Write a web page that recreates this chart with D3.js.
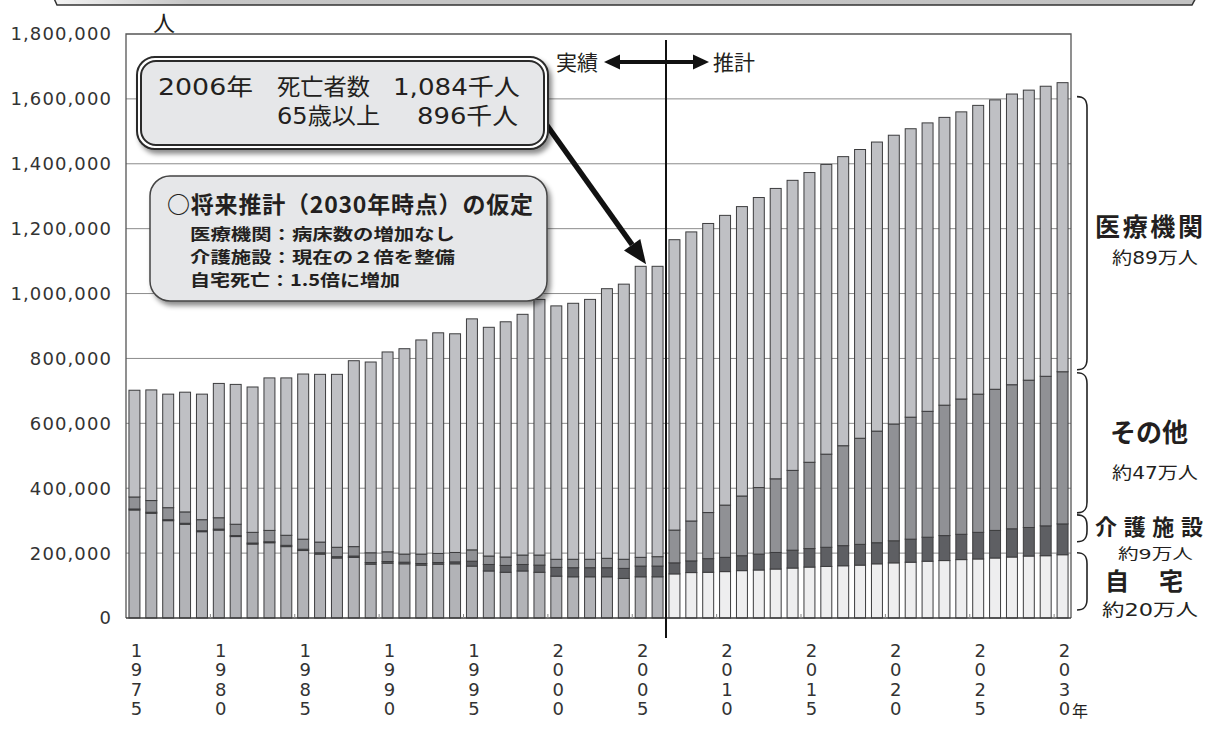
<!DOCTYPE html>
<html lang="ja">
<head>
<meta charset="utf-8">
<script src="https://cdn.jsdelivr.net/npm/d3@7"></script>
<style>
  html, body { margin: 0; padding: 0; background: #fff; }
  svg { display: block; }
</style>
</head>
<body>
<svg id="chart" width="1212" height="731"></svg>
<script>
// 死亡場所別の死亡者数の推移（単位：千人）。1975〜2006年は実績、2007年以降は推計。
const years = [1975,1976,1977,1978,1979,1980,1981,1982,1983,1984,1985,1986,1987,1988,1989,1990,
  1991,1992,1993,1994,1995,1996,1997,1998,1999,2000,2001,2002,2003,2004,2005,2006,
  2007,2008,2009,2010,2011,2012,2013,2014,2015,2016,2017,2018,2019,2020,2021,2022,
  2023,2024,2025,2026,2027,2028,2029,2030];
const lastActualYear = 2006;

// 自宅
const home = [333,323,300,289,266,271,251,228,232,220,208,197,185,187,166,169,167,163,166,167,
  160,145,141,145,141,129,127,127,127,122,127,127,
  136,140,141,143,146,148,151,154,157,159,161,163,167,170,172,175,177,180,182,185,188,191,192,195];
// 介護施設
const care = [3,3,3,3,3,3,3,3,3,4,4,4,4,4,5,5,5,5,5,6,15,20,21,20,22,27,28,28,28,31,33,33,
  34,36,42,44,46,49,51,55,57,59,62,64,65,68,71,74,77,78,82,85,87,88,92,95];
// その他
const other = [37,36,37,35,34,35,35,33,35,31,31,33,29,29,30,30,25,29,28,29,35,26,26,29,31,25,26,26,29,28,27,29,
  101,123,142,161,184,205,227,246,266,287,308,327,344,360,376,388,402,417,426,435,444,454,461,469];
// 医療機関
const medical = [329,341,350,369,387,414,431,448,470,485,509,517,533,573,588,616,633,660,680,674,
  712,705,725,742,788,781,789,801,831,848,897,895,
  895,891,891,893,892,894,895,894,893,893,891,890,891,890,889,889,887,885,890,892,896,894,894,891];

const yTicks = [0,200,400,600,800,1000,1200,1400,1600,1800];
const xLabelYears = [1975,1980,1985,1990,1995,2000,2005,2010,2015,2020,2025,2030];

const keys = ["home","care","other","medical"];
const rows = years.map((yr, i) => ({ year: yr, home: home[i], care: care[i], other: other[i], medical: medical[i] }));

// 数字は DejaVu Sans、漢字・かなは Noto Sans CJK JP で表示
const JP = "'Noto Sans CJK JP', 'Noto Sans CJK SC', sans-serif";
const MIX = "'DejaVu Sans', 'Noto Sans CJK JP', sans-serif";
const NUM = "'DejaVu Sans', 'Noto Sans', sans-serif";
const INK = "#231f20";

const svg = d3.select("#chart");
const plot = { left: 126, right: 1071, top: 34, bottom: 618 };

const x = d3.scaleBand().domain(years).range([plot.left, plot.right])
  .paddingInner(0.35).paddingOuter(0.175);
const y = d3.scaleLinear().domain([0, 1800]).range([plot.bottom, plot.top]);

const defs = svg.append("defs");
const shadow = defs.append("filter").attr("id", "shadow")
  .attr("x", "-10%").attr("y", "-10%").attr("width", "125%").attr("height", "135%");
shadow.append("feDropShadow").attr("dx", 3).attr("dy", 4).attr("stdDeviation", 2.5)
  .attr("flood-color", "#000").attr("flood-opacity", 0.45);
const bannerGrad = defs.append("linearGradient").attr("id", "bannerGrad")
  .attr("x1", 0).attr("x2", 1).attr("y1", 0).attr("y2", 0);
bannerGrad.append("stop").attr("offset", "0%").attr("stop-color", "#f4f4f4");
bannerGrad.append("stop").attr("offset", "12%").attr("stop-color", "#c6c6c6");
bannerGrad.append("stop").attr("offset", "100%").attr("stop-color", "#c2c2c2");

// 上部の見出し帯（下端のみ見える）
svg.append("path")
  .attr("d", "M52,-6 L57,5 L1192,5 L1198,-6 Z")
  .attr("fill", "url(#bannerGrad)").attr("stroke", "#333").attr("stroke-width", 1.5);

// 目盛り線
svg.append("g").selectAll("line").data(yTicks.filter(d => d > 0 && d < 1800)).join("line")
  .attr("x1", plot.left).attr("x2", plot.right)
  .attr("y1", d => y(d)).attr("y2", d => y(d))
  .attr("stroke", "#8c8c8c").attr("stroke-width", 1);

// 積み上げ棒
const colour = (key, yr) => {
  if (key === "home") return yr <= lastActualYear ? "#b2b3b7" : "#eeeeef";
  if (key === "care") return "#5e5f63";
  if (key === "other") return "#909195";
  return "#bfc0c4";
};
const series = d3.stack().keys(keys)(rows);
svg.append("g").selectAll("g").data(series).join("g")
  .selectAll("rect").data(s => s.map(d => ({ key: s.key, d }))).join("rect")
  .attr("x", o => x(o.d.data.year))
  .attr("width", x.bandwidth())
  .attr("y", o => y(o.d[1]))
  .attr("height", o => Math.max(0, y(o.d[0]) - y(o.d[1])))
  .attr("fill", o => colour(o.key, o.d.data.year))
  .attr("stroke", "#3c3c3e").attr("stroke-width", 1);

// 枠線と軸
svg.append("path")
  .attr("d", `M${plot.left},${plot.bottom} V${plot.top} H${plot.right} V${plot.bottom}`)
  .attr("fill", "none").attr("stroke", "#555").attr("stroke-width", 1.3);
svg.append("line").attr("x1", plot.left).attr("x2", plot.right)
  .attr("y1", plot.bottom).attr("y2", plot.bottom)
  .attr("stroke", "#3c3c3c").attr("stroke-width", 1.6);

// 5年ごとの小目盛り
const step = x.step();
svg.append("g").selectAll("line").data(xLabelYears.slice(1)).join("line")
  .attr("x1", d => x(d) - step * x.paddingInner() / 2)
  .attr("x2", d => x(d) - step * x.paddingInner() / 2)
  .attr("y1", plot.bottom).attr("y2", plot.bottom - 4)
  .attr("stroke", "#888").attr("stroke-width", 1);

// Y軸ラベル
svg.append("g").selectAll("text").data(yTicks).join("text")
  .attr("x", 112).attr("y", d => y(d))
  .attr("dy", "0.36em")
  .attr("text-anchor", "end")
  .attr("font-family", NUM).attr("font-size", 18).attr("letter-spacing", 1.1)
  .attr("fill", "#333")
  .text(d => d3.format(",")(d * 1000));

svg.append("text").attr("x", 164).attr("y", 31).attr("text-anchor", "middle")
  .attr("font-family", JP).attr("font-size", 22).attr("fill", INK).text("人");

// X軸ラベル（縦書きの数字）
const xl = svg.append("g");
xLabelYears.forEach(yr => {
  const cx = x(yr) + x.bandwidth() / 2 + 2;
  String(yr).split("").forEach((ch, k) => {
    xl.append("text").attr("x", cx).attr("y", 657 + k * 19.4)
      .attr("text-anchor", "middle")
      .attr("font-family", NUM).attr("font-size", 18)
      .attr("fill", "#333").text(ch);
  });
});
svg.append("text").attr("x", 1072).attr("y", 717)
  .attr("font-family", JP).attr("font-size", 16).attr("fill", INK).text("年");

// 実績／推計の区切り
const divX = (x(lastActualYear) + x.bandwidth() + x(lastActualYear + 1)) / 2;
svg.append("line").attr("x1", divX).attr("x2", divX).attr("y1", 40).attr("y2", 638)
  .attr("stroke", "#111").attr("stroke-width", 2);

function arrowHead(g, tipX, tipY, dir, len, half) {
  g.append("path")
    .attr("d", `M${tipX},${tipY} L${tipX - dir * len},${tipY - half} L${tipX - dir * len},${tipY + half} Z`)
    .attr("fill", "#111");
}
const ga = svg.append("g");
ga.append("line").attr("x1", 615).attr("x2", 698).attr("y1", 62).attr("y2", 62)
  .attr("stroke", "#111").attr("stroke-width", 4);
arrowHead(ga, 604, 62, -1, 16, 7.5);
arrowHead(ga, 709, 62, 1, 16, 7.5);
svg.append("text").attr("x", 556).attr("y", 70).attr("font-family", JP).attr("font-size", 21)
  .attr("fill", INK).text("実績");
svg.append("text").attr("x", 713).attr("y", 70).attr("font-family", JP).attr("font-size", 21)
  .attr("fill", INK).text("推計");

// 2006年の死亡者数を指す矢印
(() => {
  const tx = x(lastActualYear) - 6, ty = y(1084) - 2;
  const sx = 546, sy = 124;
  const ang = Math.atan2(ty - sy, tx - sx);
  const len = 24, half = 10;
  const bx = tx - len * Math.cos(ang), by = ty - len * Math.sin(ang);
  svg.append("line").attr("x1", sx).attr("y1", sy).attr("x2", bx).attr("y2", by)
    .attr("stroke", "#111").attr("stroke-width", 5.5);
  const px = -Math.sin(ang) * half, py = Math.cos(ang) * half;
  svg.append("path")
    .attr("d", `M${tx},${ty} L${bx + px},${by + py} L${bx - px},${by - py} Z`)
    .attr("fill", "#111");
})();

// 吹き出し1（二重枠）
const b1 = svg.append("g");
b1.append("rect").attr("x", 137).attr("y", 57).attr("width", 411).attr("height", 92)
  .attr("rx", 18).attr("fill", "#fff").attr("stroke", "#2a2a2a").attr("stroke-width", 2)
  .attr("filter", "url(#shadow)");
b1.append("rect").attr("x", 141).attr("y", 61).attr("width", 403).attr("height", 84)
  .attr("rx", 15).attr("fill", "#e6e7e9").attr("stroke", "#2a2a2a").attr("stroke-width", 2);
const t1 = [
  { x: 158, y: 95, w: 95, s: "2006年" }, { x: 277, y: 95, w: 93, s: "死亡者数" },
  { x: 393, y: 95, w: 127, s: "1,084千人" },
  { x: 277, y: 124, w: 103, s: "65歳以上" }, { x: 417, y: 124, w: 101, s: "896千人" }
];
b1.selectAll("text").data(t1).join("text")
  .attr("x", d => d.x).attr("y", d => d.y)
  .attr("textLength", d => d.w).attr("lengthAdjust", "spacingAndGlyphs")
  .attr("font-family", MIX).attr("font-size", 23).attr("fill", INK)
  .text(d => d.s);

// 吹き出し2（推計の仮定）
const b2 = svg.append("g");
b2.append("rect").attr("x", 150).attr("y", 176).attr("width", 397).attr("height", 125)
  .attr("rx", 20).attr("fill", "#e6e7e9").attr("stroke", "#444").attr("stroke-width", 1.5)
  .attr("filter", "url(#shadow)");
b2.append("text").attr("x", 167).attr("y", 213)
  .attr("textLength", 366).attr("lengthAdjust", "spacing")
  .attr("font-family", JP).attr("font-size", 23).attr("font-weight", 700).attr("fill", INK)
  .text("○将来推計（2030年時点）の仮定");
const t2 = [
  { s: "医療機関：病床数の増加なし", w: 265 },
  { s: "介護施設：現在の２倍を整備", w: 265 },
  { s: "自宅死亡：1.5倍に増加", w: 210 }
];
b2.selectAll("text.line").data(t2).join("text").attr("class", "line")
  .attr("x", 190).attr("y", (d, i) => 239.5 + i * 23.3)
  .attr("textLength", d => d.w).attr("lengthAdjust", "spacingAndGlyphs")
  .attr("font-family", JP).attr("font-size", 16).attr("font-weight", 700).attr("fill", INK)
  .text(d => d.s);

// 右側の括弧と2030年の内訳
function bracket(y0, y1) {
  const x0 = 1077, x1 = 1087, r = 11;
  return `M${x0},${y0} C${x0 + 7},${y0} ${x1},${y0 + 3} ${x1},${y0 + r} L${x1},${y1 - r} C${x1},${y1 - 3} ${x0 + 7},${y1} ${x0},${y1}`;
}
const last = rows[rows.length - 1];
const topOf = k => keys.slice(0, keys.indexOf(k) + 1).reduce((a, kk) => a + last[kk], 0);
const baseOf = k => keys.slice(0, keys.indexOf(k)).reduce((a, kk) => a + last[kk], 0);
const brackets = [
  { key: "medical", y0: y(topOf("medical")) + 14, y1: y(baseOf("medical")) - 2 },
  { key: "other", y0: y(topOf("other")) + 1, y1: y(baseOf("other")) - 11 },
  { key: "care", y0: y(topOf("care")) - 9, y1: y(baseOf("care")) - 13 },
  { key: "home", y0: y(topOf("home")) - 2, y1: y(0) - 8 }
];
svg.append("g").selectAll("path").data(brackets).join("path")
  .attr("d", d => bracket(d.y0, d.y1))
  .attr("fill", "none").attr("stroke", "#222").attr("stroke-width", 1.6);

const labels = [
  { x: 1095, y: 236, w: 108, s: "医療機関", size: 25, wt: 700 },
  { x: 1112, y: 264, w: 86, s: "約89万人", size: 17, wt: 400 },
  { x: 1110, y: 442, w: 78, s: "その他", size: 26, wt: 700 },
  { x: 1112, y: 479, w: 86, s: "約47万人", size: 17, wt: 400 },
  { x: 1095, y: 535, w: 108, s: "介護施設", size: 22, wt: 700 },
  { x: 1118, y: 558.5, w: 75, s: "約9万人", size: 14.5, wt: 400 },
  { x: 1105, y: 590, w: 78, s: "自　宅", size: 24, wt: 700 },
  { x: 1102, y: 616, w: 96, s: "約20万人", size: 17, wt: 400 }
];
svg.append("g").selectAll("text").data(labels).join("text")
  .attr("x", d => d.x).attr("y", d => d.y)
  .attr("textLength", d => d.w).attr("lengthAdjust", d => d.wt === 700 ? "spacing" : "spacingAndGlyphs")
  .attr("font-family", d => d.wt === 700 ? JP : MIX)
  .attr("font-size", d => d.size).attr("font-weight", d => d.wt)
  .attr("fill", INK).text(d => d.s);
</script>
</body>
</html>
